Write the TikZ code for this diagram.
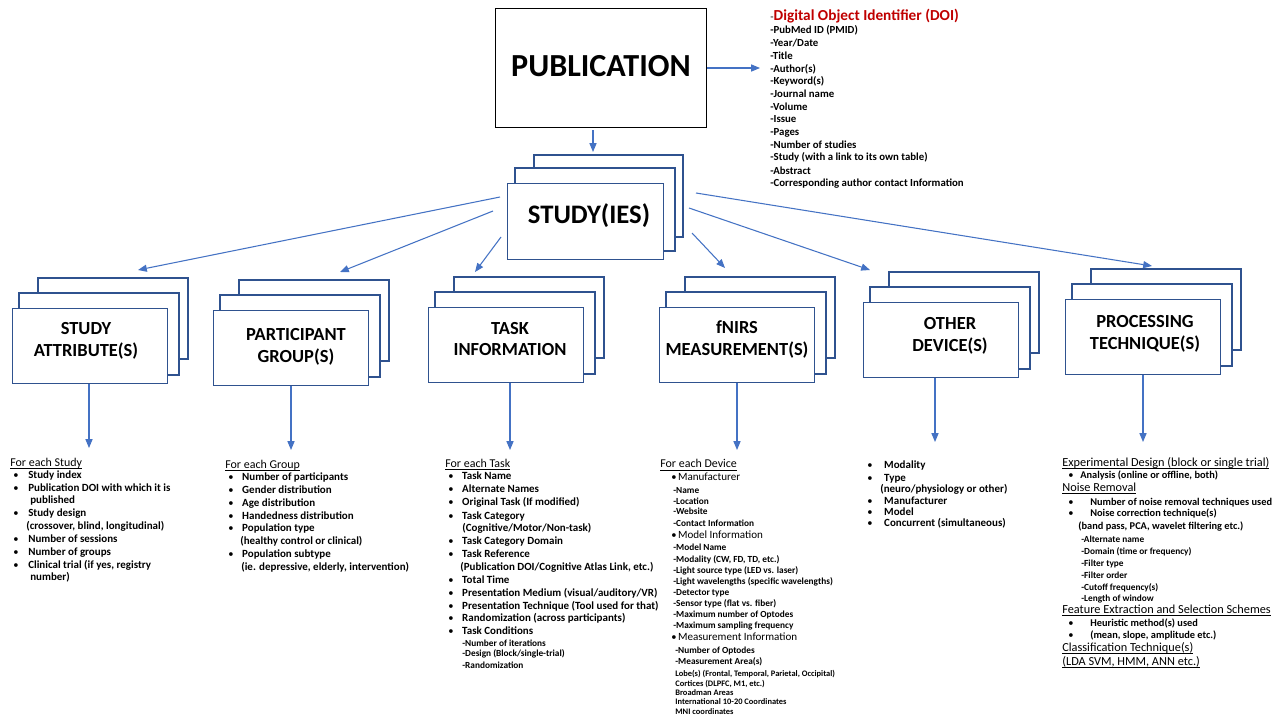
\documentclass[tikz,border=0pt]{standalone}
\usepackage{fontspec}
\setmainfont{Carlito}
\usetikzlibrary{arrows.meta}
\definecolor{arrblue}{HTML}{4472C4}
\definecolor{boxblue}{HTML}{2F528F}
\definecolor{doired}{HTML}{C00000}
\newcommand{\ul}[1]{\underline{\smash{#1}}}
\newcommand{\bul}[1]{\makebox[#1][l]{\normalfont\fontsize{6}{6}\selectfont\textbullet}}
\tikzset{
  arr/.style={draw=arrblue, line width=0.6pt, -{Triangle[length=5pt,width=4pt]}},
  stk/.style={draw=boxblue, line width=0.6pt, fill=white},
  front/.style={stk, minimum width=3.1cm, minimum height=1.5cm, inner sep=0pt},
  boxlbl/.style={inner sep=0pt, align=center, font=\fontsize{10.5}{12.5}\selectfont\bfseries},
  hd/.style={anchor=base west, inner sep=0pt, font=\fontsize{6.8}{8}\selectfont},
  ph/.style={hd, font=\fontsize{7}{8}\selectfont},
  it/.style={anchor=base west, inner sep=0pt, font=\fontsize{6.25}{7}\selectfont\bfseries},
  pi/.style={anchor=base west, inner sep=0pt, font=\fontsize{5.9}{7}\selectfont\bfseries},
  mi/.style={anchor=base west, inner sep=0pt, font=\fontsize{6.3}{7}\selectfont},
  sb/.style={anchor=base west, inner sep=0pt, font=\fontsize{5.3}{6}\selectfont\bfseries},
  ss/.style={anchor=base west, inner sep=0pt, font=\fontsize{4.8}{5}\selectfont\bfseries},
  doi/.style={anchor=base west, inner sep=0pt, font=\fontsize{6.15}{7}\selectfont\bfseries}
}
\begin{document}
\begin{tikzpicture}[x=0.02cm, y=-0.02cm]
\fill[white] (0,0) rectangle (1280,720);
\useasboundingbox (0,0) rectangle (1280,720);

% publication and its fields
\node[draw=black, line width=0.85pt, minimum width=4.22cm, minimum height=2.38cm,
  font=\fontsize{18.3}{22}\selectfont\bfseries] (pub) at (601,68) {\raisebox{2pt}{PUBLICATION}};
\node[anchor=base west, inner sep=0pt] (doi0) at (770,20)
  {{\fontsize{6.15}{7}\selectfont -}{\color{doired}\fontsize{8.7}{10}\selectfont\bfseries Digital Object Identifier (DOI)}};
\foreach \y/\t [count=\i] in {30/{PubMed ID (PMID)}, 43/{Year/Date}, 56/{Title}, 69/{Author(s)},
  81/{Keyword(s)}, 94/{Journal name}, 107/{Volume}, 119/{Issue}, 132/{Pages},
  145/{Number of studies}, 157/{Study (with a link to its own table)}, 171/{Abstract},
  183/{Corresponding author contact Information}}
  \node[doi] (doi\i) at (770,\y+3) {-\t};
\coordinate (doi-in) at (760,68);
\draw[arr] (pub) -- (doi-in);

% study(ies) stack
\draw[stk] (534,155) rectangle (683,237);
\draw[stk] (515,168) rectangle (675,251);
\node[front, anchor=north west, minimum width=3.12cm, minimum height=1.52cm] (st) at (507,183) {};
\node[inner sep=0pt, font=\fontsize{15.2}{18}\selectfont\bfseries] (st-t) at (589,216) {STUDY(IES)};
\coordinate (pub-out) at (593,130);
\coordinate (st-in) at (593,152);
\draw[arr] (pub-out) -- (st-in);

% second level stacks
\foreach \n/\fx/\fy/\tx/\ty/\t in {
  sa/12/308/86/341/{STUDY\\ATTRIBUTE(S)},
  pg/213/310/296/347/{PARTICIPANT\\GROUP(S)},
  ti/428/307/510/339/{TASK\\INFORMATION},
  fm/659/307/737/339/{fNIRS\\MEASUREMENT(S)},
  od/863/302/950/336/{OTHER\\DEVICE(S)},
  pt/1065/299/1145/334/{PROCESSING\\TECHNIQUE(S)}} {
  \draw[stk] (\fx+26,\fy-30) rectangle (\fx+176,\fy+51);
  \draw[stk] (\fx+7,\fy-15) rectangle (\fx+167,\fy+67);
  \node[front, anchor=north west] (\n) at (\fx,\fy) {};
  \node[boxlbl] (\n-t) at (\tx,\ty) {\t};
}

% arrows out of study(ies)
\foreach \n/\a/\b/\c/\d in {sa/500/197/138/270, pg/493/211/340/272, ti/501/237/475/272,
  fm/692/233/725/268, od/689/208/870/270, pt/696/193/1152/266} {
  \coordinate (st-\n) at (\a,\b);
  \coordinate (\n-top) at (\c,\d);
  \draw[arr] (st-\n) -- (\n-top);
}

% arrows down to the lists
\foreach \n/\ax/\ay in {sa/89/448, pg/291/450, ti/510/450, fm/737/450, od/935/442, pt/1143/442} {
  \coordinate (\n-list) at (\ax,\ay);
  \draw[arr] (\n.south -| \n-list) -- (\n-list);
}

% study attribute list
\begin{scope}[bi/.style={it, execute at begin node={\bul{8.5pt}}}]
\foreach \x/\y/\s/\t [count=\i] in {
  10/463/hd/{\ul{For each Study}},
  13/475/bi/{Study index},
  13/488/bi/{Publication DOI with which it is},
  30/500/it/{published},
  13/513/bi/{Study design},
  26/526/it/{(crossover, blind, longitudinal)},
  13/539/bi/{Number of sessions},
  13/552/bi/{Number of groups},
  13/565/bi/{Clinical trial (if yes, registry},
  30/577/it/{number)}}
  \node[\s] (sa\i) at (\x,\y+3) {\t};
\end{scope}

% participant group list
\begin{scope}[bi/.style={it, execute at begin node={\bul{7.9pt}}}]
\foreach \x/\y/\s/\t [count=\i] in {
  225/465/hd/{\ul{For each Group}},
  228/477/bi/{Number of participants},
  228/490/bi/{Gender distribution},
  228/503/bi/{Age distribution},
  228/516/bi/{Handedness distribution},
  228/528/bi/{Population type},
  240/541/it/{(healthy control or clinical)},
  228/554/bi/{Population subtype},
  241/567/it/{(ie. depressive, elderly, intervention)}}
  \node[\s] (pg\i) at (\x,\y+3) {\t};
\end{scope}

% task information list
\begin{scope}[bi/.style={it, execute at begin node={\bul{7.9pt}}}]
\foreach \x/\y/\s/\t [count=\i] in {
  445/464/hd/{\ul{For each Task}},
  448/476/bi/{Task Name},
  448/489/bi/{Alternate Names},
  448/502/bi/{Original Task (If modified)},
  448/516/bi/{Task Category},
  462/528/it/{(Cognitive/Motor/Non-task)},
  448/541/bi/{Task Category Domain},
  448/554/bi/{Task Reference},
  460/567/it/{(Publication DOI/Cognitive Atlas Link, etc.)},
  448/580/bi/{Total Time},
  448/593/bi/{Presentation Medium (visual/auditory/VR)},
  448/606/bi/{Presentation Technique (Tool used for that)},
  448/618/bi/{Randomization (across participants)},
  448/631/bi/{Task Conditions},
  462/643/sb/{-Number of iterations},
  462/653/sb/{-Design (Block/single-trial)},
  462/665/sb/{-Randomization}}
  \node[\s] (ti\i) at (\x,\y+3) {\t};
\end{scope}

% fNIRS measurement list
\begin{scope}[bi/.style={mi, execute at begin node={\bul{3.8pt}}}]
\foreach \x/\y/\s/\t [count=\i] in {
  660/465/hd/{\ul{For each Device}},
  671/478/bi/{Manufacturer},
  673/491/sb/{-Name},
  673/502/sb/{-Location},
  673/512/sb/{-Website},
  673/524/sb/{-Contact Information},
  671/536/bi/{Model Information},
  673/548/sb/{-Model Name},
  673/560/sb/{-Modality (CW, FD, TD, etc.)},
  673/571/sb/{-Light source type (LED vs. laser)},
  673/582/sb/{-Light wavelengths (specific wavelengths)},
  673/593/sb/{-Detector type},
  673/604/sb/{-Sensor type (flat vs. fiber)},
  673/615/sb/{-Maximum number of Optodes},
  673/626/sb/{-Maximum sampling frequency},
  671/638/bi/{Measurement Information},
  675/651/sb/{-Number of Optodes},
  675/662/sb/{-Measurement Area(s)},
  675/674/ss/{Lobe(s) (Frontal, Temporal, Parietal, Occipital)},
  675/684/ss/{Cortices (DLPFC, M1, etc.)},
  675/693/ss/{Broadman Areas},
  675/702/ss/{International 10-20 Coordinates},
  675/712/ss/{MNI coordinates}}
  \node[\s] (fm\i) at (\x,\y+2.5) {\t};
\end{scope}

% other device list
\begin{scope}[bi/.style={it, execute at begin node={\bul{9.6pt}}}]
\foreach \x/\y/\s/\t [count=\i] in {
  867/465/bi/{Modality},
  867/478/bi/{Type},
  880/489/it/{(neuro/physiology or other)},
  867/501/bi/{Manufacturer},
  867/512/bi/{Model},
  867/523/bi/{Concurrent (simultaneous)}}
  \node[\s] (od\i) at (\x,\y+3) {\t};
\end{scope}

% processing technique list
\begin{scope}[bi/.style={pi, execute at begin node={\bul{6.8pt}}},
  bj/.style={pi, execute at begin node={\bul{12.5pt}}}]
\foreach \x/\y/\s/\t [count=\i] in {
  1062/463/ph/{\ul{Experimental Design (block or single trial)}},
  1068/475/bi/{Analysis (online or offline, both)},
  1062/488/ph/{\ul{Noise Removal}},
  1068/502/bj/{Number of noise removal techniques used},
  1068/513/bj/{Noise correction technique(s)},
  1078/526/pi/{(band pass, PCA, wavelet filtering etc.)},
  1081/539/sb/{-Alternate name},
  1081/551/sb/{-Domain (time or frequency)},
  1081/563/sb/{-Filter type},
  1081/575/sb/{-Filter order},
  1081/587/sb/{-Cutoff frequency(s)},
  1081/598/sb/{-Length of window},
  1062/610/ph/{\ul{Feature Extraction and Selection Schemes}},
  1068/623/bj/{Heuristic method(s) used},
  1068/635/bj/{(mean, slope, amplitude etc.)},
  1062/648/ph/{\ul{Classification Technique(s)}},
  1062/662/ph/{\ul{(LDA SVM, HMM, ANN etc.)}}}
  \node[\s] (pt\i) at (\x,\y+3) {\t};
\end{scope}
\end{tikzpicture}
\end{document}
